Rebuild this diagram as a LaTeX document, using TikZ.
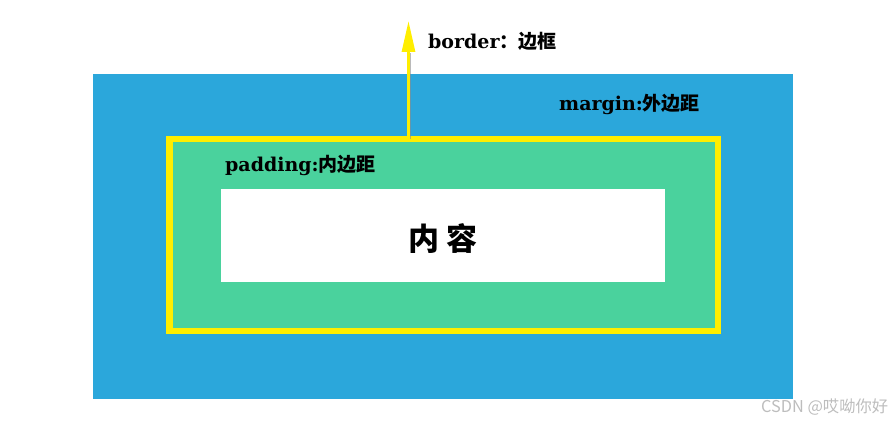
\documentclass[tikz,border=0pt]{standalone}
\usepackage{fontspec}
\setmainfont{DejaVu Serif}
\newfontfamily\cjk{Noto Sans CJK SC}
\usetikzlibrary{arrows.meta}
\definecolor{marginblue}{HTML}{2BA7DB}
\definecolor{padgreen}{HTML}{4AD29D}
\definecolor{borderyellow}{HTML}{FFEE00}
\definecolor{wmgray}{HTML}{BDBDBD}
\tikzset{
  box/.style={inner sep=0pt, outer sep=0pt, rectangle},
  marginbox/.style={box, fill=marginblue, minimum width=700pt, minimum height=325pt},
  borderbox/.style={box, fill=padgreen, draw=borderyellow, line width=6.5pt, minimum width=548.5pt, minimum height=192pt},
  contentbox/.style={box, fill=white, minimum width=444pt, minimum height=93pt},
  lbl/.style={inner sep=0pt, anchor=west, font=\fontsize{19}{21}\selectfont\bfseries},
  arrowline/.style={draw=borderyellow, line width=3pt, -{Triangle[width=13pt,length=31pt]}},
}
\begin{document}
\begin{tikzpicture}[x=1pt,y=-1pt]
\useasboundingbox (0,0) rectangle (895,422);
\node[marginbox] (margin) at (443,236.5) {};
\node[borderbox] (pad) at (443.5,235.25) {};
\node[contentbox] (content) at (443,235.5) {};
\coordinate (tip) at (408.5,21);
\coordinate (headbase) at (410.5,53);
\draw[black!45, line width=1pt, opacity=0.6] ([xshift=2pt]pad.north -| tip) -- (headbase);
\draw[arrowline] (pad.north -| tip) -- (tip);
\node[lbl] (blabel) at (428,41) {border{\cjk：边框}};
\node[lbl] (mlabel) at (559,104) {margin:{\cjk 外边距}};
\node[lbl] (plabel) at (225,165) {padding:{\cjk 内边距}};
\node[inner sep=0pt, font=\cjk\fontsize{31}{34}\selectfont\bfseries] (ctext) at (443,239) {内\hspace{7pt}容};
\node[inner sep=0pt, anchor=west, text=wmgray, font=\cjk\fontsize{16.3}{18}\selectfont] (wm) at (761,407) {CSDN @哎呦你好};
\end{tikzpicture}
\end{document}
